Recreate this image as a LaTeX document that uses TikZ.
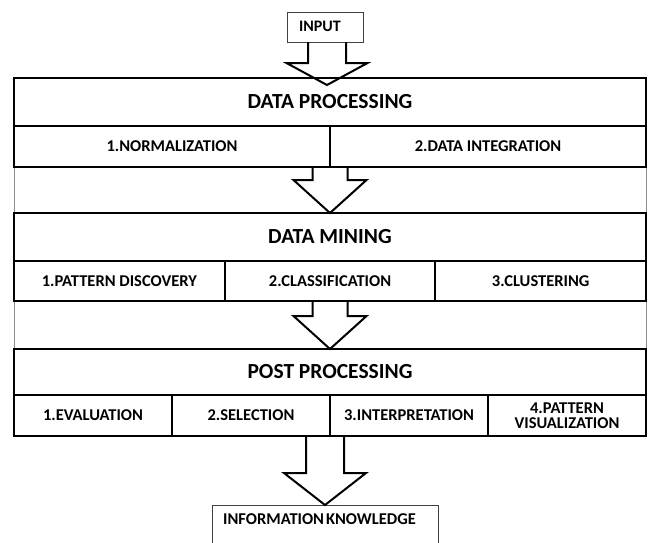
\documentclass[tikz,border=0pt]{standalone}
\usepackage{fontspec}
\setmainfont{Carlito}
\usetikzlibrary{calc}
\tikzset{
  stagebox/.style={draw=black, line width=2.2pt, inner sep=0pt, outer sep=0pt, anchor=north west,
    minimum width=632pt, font=\bfseries\fontsize{21.5}{24}\selectfont, align=center},
  subbox/.style={draw=black, line width=2.2pt, inner sep=0pt, outer sep=0pt, anchor=north west,
    font=\bfseries\fontsize{16.5}{17}\selectfont, align=center},
  thinbox/.style={draw=black!75, line width=0.9pt, inner sep=0pt, outer sep=0pt, anchor=north west},
  plaintext/.style={font=\bfseries\fontsize{16.5}{17}\selectfont, inner sep=0pt},
  blockarrow/.style={draw=black, line width=2pt, line join=miter},
  frameline/.style={draw=black!45, line width=0.8pt}
}
\newcommand{\blkarrow}[5]{%
  \draw[blockarrow] let \p1=(#1), \p2=(#2) in
    (\x2-#3,\y1) -- (\x2-#3,\y2+#5) -- (\x2-#4,\y2+#5) -- (\x2,\y2)
    -- (\x2+#4,\y2+#5) -- (\x2+#3,\y2+#5) -- (\x2+#3,\y1);}
\begin{document}
\begin{tikzpicture}[x=1pt,y=-1pt]
\useasboundingbox (0,0) rectangle (648,542);
\clip (0,0) rectangle (648,542);
% outer thin frame
\draw[frameline] (14,78) rectangle (646,349);
% input
\node[thinbox, minimum width=76pt, minimum height=30pt] (inp) at (287,12) {};
\node[plaintext, font=\bfseries\fontsize{16}{17}\selectfont] (inptxt) at (320,26) {INPUT};
% data processing
\node[stagebox, minimum height=48pt] (dphead) at (14,78) {DATA PROCESSING};
\node[subbox, minimum width=316pt, minimum height=41pt] (dpa) at (14,126) {1.NORMALIZATION};
\node[subbox, minimum width=316pt, minimum height=41pt] (dpb) at (330,126) {2.DATA INTEGRATION};
% data mining
\node[stagebox, minimum height=48pt] (dmhead) at (14,213) {DATA MINING};
\node[subbox, minimum width=210.67pt, minimum height=40pt] (dma) at (14,261) {1.PATTERN DISCOVERY};
\node[subbox, minimum width=210.67pt, minimum height=40pt] (dmb) at (224.67,261) {2.CLASSIFICATION};
\node[subbox, minimum width=210.67pt, minimum height=40pt] (dmc) at (435.33,261) {3.CLUSTERING};
% post processing
\node[stagebox, minimum height=46pt] (pphead) at (14,349) {POST PROCESSING};
\node[subbox, minimum width=158pt, minimum height=41pt] (ppa) at (14,395) {1.EVALUATION};
\node[subbox, minimum width=158pt, minimum height=41pt] (ppb) at (172,395) {2.SELECTION};
\node[subbox, minimum width=158pt, minimum height=41pt] (ppc) at (330,395) {3.INTERPRETATION};
\node[subbox, minimum width=158pt, minimum height=41pt] (ppd) at (488,395) {4.PATTERN\\[-2pt]VISUALIZATION};
% output
\node[thinbox, minimum width=226pt, minimum height=60pt] (info) at (212,505) {};
\node[plaintext, anchor=west] (infotxt) at (223,519) {INFORMATION\hspace{0.12em}KNOWLEDGE};
% arrows
\coordinate (tip1) at (327,85);
\blkarrow{inp.south}{tip1}{19pt}{40.5pt}{22pt}
\blkarrow{dpa.south}{dmhead.north}{17.5pt}{36.5pt}{33pt}
\blkarrow{dma.south}{pphead.north}{17.5pt}{36.5pt}{33pt}
\blkarrow{ppa.south}{info.north}{19pt}{41pt}{32pt}
\end{tikzpicture}
\end{document}
